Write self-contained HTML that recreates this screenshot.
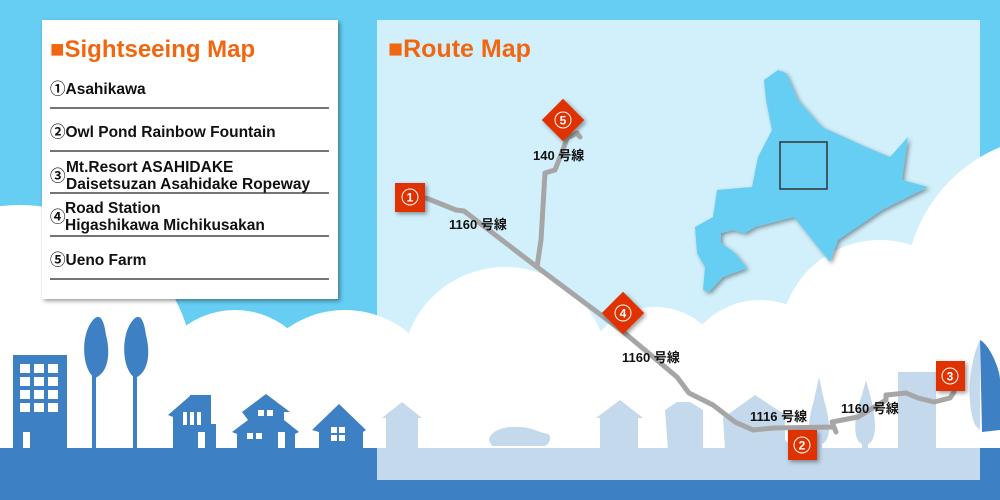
<!DOCTYPE html>
<html><head><meta charset="utf-8"><style>
html,body{margin:0;padding:0;width:1000px;height:500px;overflow:hidden;background:#66cdf3}
svg{display:block;overflow:hidden;position:absolute;left:0;top:0}
text{font-family:"Liberation Sans","Noto Sans CJK JP",sans-serif;font-weight:bold}
</style></head><body>
<svg width="1000" height="500" viewBox="0 0 1000 500" xmlns="http://www.w3.org/2000/svg">
<defs>
<filter id="sh" x="-10%" y="-10%" width="130%" height="130%"><feDropShadow dx="2" dy="2" stdDeviation="2" flood-color="#000" flood-opacity="0.4"/></filter>
<clipPath id="cp"><rect width="1000" height="500"/></clipPath>
</defs>
<g clip-path="url(#cp)">
<rect width="1000" height="500" fill="#66cdf3"/>
<g fill="#fff">
<circle cx="20" cy="380" r="175"/>
<circle cx="235" cy="395" r="85"/>
<circle cx="345" cy="410" r="100"/>
<circle cx="505" cy="370" r="103"/>
<circle cx="655" cy="380" r="73"/>
<circle cx="760" cy="380" r="80"/>
<circle cx="880" cy="340" r="100"/>
<circle cx="1060" cy="290" r="155"/>
<rect x="0" y="370" width="1000" height="90"/>
</g>
<g fill="#3d80c3">
<rect x="0" y="448" width="1000" height="52"/>
<rect x="13" y="355" width="54" height="95"/>
<path d="M95 378 C82 370 80 335 93 320 C100 312 104 320 106 335 C110 350 110 372 95 378 Z"/><rect x="92" y="370" width="4" height="80"/>
<path d="M135 378 C122 370 120 335 133 320 C140 312 144 320 146 335 C150 350 150 372 135 378 Z"/><rect x="133" y="370" width="4" height="80"/>
<path d="M168 415 L190 396 L190 395 L211 395 L211 424 L216 424 L216 450 L173 450 L173 417 Z"/>
<path d="M232 432 L248 420 L242 412 L266 394 L290 412 L284 412 L284 420 L299 432 L295 434 L295 450 L237 450 L237 434 Z"/>
<path d="M312 430 L339 404 L366 430 L363 432 L363 450 L319 450 L319 432 Z"/>
<path d="M382 418 L402 402 L422 418 L418 418 L418 450 L386 450 L386 418 Z"/>
<path d="M489 440 C490 432 500 428 510 427 L520 427 C530 427 538 432 548 434 C552 436 550 444 545 446 L492 446 Z"/>
<path d="M596 418 L620 400 L643 418 L638 418 L638 450 L600 450 L600 418 Z"/>
<path d="M665 410 L677 402 L690 402 L703 410 L703 450 L668 450 Z"/>
<path d="M723 418 L755 395 L790 418 L785 418 L785 440 L795 450 L725 450 Z"/>
<path d="M814 400 C808 420 806 440 816 444 L816 450 L822 450 L822 444 C832 440 830 420 824 400 L819 377 Z"/>
<path d="M862 395 C854 415 852 440 862 444 L862 450 L868 450 L868 444 C878 440 876 415 870 395 L866 380 Z"/>
<rect x="898" y="372" width="38" height="78"/>
<path d="M980 340 C970 360 965 400 975 425 L980 430 L980 340 Z"/>
</g>
<path d="M980 340 C990 345 1000 370 1000 380 L1000 430 L982 432 Z" fill="#3d80c3"/>
<g fill="#fff">
<rect x="20" y="364" width="10" height="9"/><rect x="34" y="364" width="10" height="9"/><rect x="48" y="364" width="10" height="9"/>
<rect x="20" y="377" width="10" height="9"/><rect x="34" y="377" width="10" height="9"/><rect x="48" y="377" width="10" height="9"/>
<rect x="20" y="390" width="10" height="9"/><rect x="34" y="390" width="10" height="9"/><rect x="48" y="390" width="10" height="9"/>
<rect x="20" y="403" width="10" height="9"/><rect x="34" y="403" width="10" height="9"/><rect x="48" y="403" width="10" height="9"/>
<rect x="23" y="432" width="7" height="16"/>
<rect x="183" y="412" width="4" height="13"/><rect x="190" y="412" width="4" height="13"/><rect x="197" y="412" width="4" height="13"/><rect x="198" y="432" width="7" height="16"/>
<rect x="258" y="410" width="6" height="6"/><rect x="267" y="410" width="6" height="6"/><rect x="247" y="433" width="6" height="6"/><rect x="256" y="433" width="6" height="6"/><rect x="278" y="432" width="7" height="16"/>
<rect x="331" y="427" width="6" height="6"/><rect x="339" y="427" width="6" height="6"/><rect x="331" y="435" width="6" height="6"/><rect x="339" y="435" width="6" height="6"/>
</g>
<rect x="377" y="20" width="603" height="460" fill="#fff" fill-opacity="0.7"/>
<rect x="42" y="20" width="296" height="279" fill="#fff" filter="url(#sh)"/>
<text x="50" y="57" font-size="24" fill="#f2660f">■Sightseeing Map</text>
<g font-size="15.5" fill="#111">
<text x="50" y="94">①Asahikawa</text>
<text x="50" y="137">②Owl Pond Rainbow Fountain</text>
<text x="66" y="172">Mt.Resort ASAHIDAKE</text>
<text x="66" y="189">Daisetsuzan Asahidake Ropeway</text>
<text x="50" y="181">③</text>
<text x="65" y="213">Road Station</text>
<text x="65" y="230">Higashikawa Michikusakan</text>
<text x="50" y="222">④</text>
<text x="50" y="265">⑤Ueno Farm</text>
</g>
<g stroke="#222" stroke-width="1.2">
<line x1="50" y1="108" x2="329" y2="108"/><line x1="50" y1="151" x2="329" y2="151"/><line x1="50" y1="193" x2="329" y2="193"/><line x1="50" y1="236" x2="329" y2="236"/><line x1="50" y1="279" x2="329" y2="279"/>
</g>
<text x="388" y="57" font-size="25" fill="#f2660f">■Route Map</text>
<path filter="url(#sh)" fill="#66cdf3" d="M778 70 L764 80 L766 100 L772 130 L758 157 L752 187 L717 190 L713 217 L695 227 L697 253 L705 267 L703 290 L709 292 L723 277 L747 268 L735 253 L721 243 L721 233 L733 230 L745 233 L755 227 L794 217 L830 262 L838 240 L882 210 L902 200 L928 187 L902 180 L908 137 L890 157 L866 147 L822 127 L798 100 L786 73 Z"/>
<rect x="780" y="142" width="47" height="47" fill="none" stroke="#333" stroke-width="1.5"/>
<g fill="none" stroke="#a6a6a6" stroke-width="5" stroke-linejoin="round" stroke-linecap="round">
<path d="M426 198 L456 210 L464 211 L537 267 L621 330 L677 377 L689 393 L713 405 L735 422 L753 430 L774 428 L834 427 L836 432 L832 422 L858 417 L886 400 L886 395 L906 393 L918 398 L934 402 L950 398 L954 392"/>
<path d="M537 267 L541 240 L545 173 L555 170 L564 147 L567 138 L577 133 L580 137"/>
</g>
<g font-size="13" fill="#111">
<text x="449" y="229">1160 号線</text>
<text x="533" y="160">140 号線</text>
<text x="622" y="362">1160 号線</text>
<text x="750" y="421">1116 号線</text>
<text x="841" y="413">1160 号線</text>
</g>
<g fill="#e03200" filter="url(#sh)">
<rect x="395" y="183" width="30" height="29"/>
<rect x="788" y="430" width="29" height="30"/>
<rect x="936" y="361" width="29" height="30"/>
<rect x="548" y="105" width="30" height="30" transform="rotate(45 563 120)"/>
<rect x="608" y="298" width="30" height="30" transform="rotate(45 623 313)"/>
</g>
<g fill="none" stroke="#fff" stroke-width="1">
<circle cx="410" cy="197" r="8"/><circle cx="802" cy="445" r="8"/><circle cx="950" cy="376" r="8"/><circle cx="563" cy="120" r="8"/><circle cx="623" cy="313" r="8"/>
</g>
<g font-size="12" fill="#fff" text-anchor="middle">
<text x="410" y="201.5">1</text><text x="802" y="449.5">2</text><text x="950" y="380.5">3</text><text x="563" y="124.5">5</text><text x="623" y="317.5">4</text>
</g>
</g>
</svg>
</body></html>
